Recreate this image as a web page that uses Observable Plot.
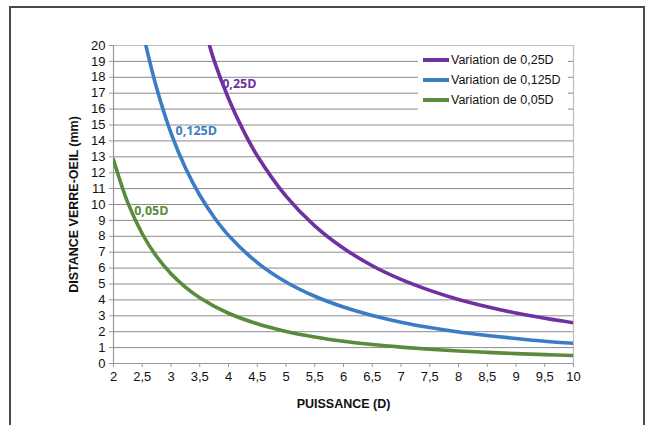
<!DOCTYPE html>
<html>
<head>
<meta charset="utf-8">
<script src="https://cdn.jsdelivr.net/npm/d3@7"></script>
<script src="https://cdn.jsdelivr.net/npm/@observablehq/plot@0.6"></script>
<style>
  html, body { margin: 0; padding: 0; background: #fff; }
  #wrap { position: relative; width: 657px; height: 425px; overflow: hidden; font-family: "Liberation Sans", Arial, sans-serif; }
  #frame { position: absolute; left: 9px; top: 6px; width: 636px; height: 440px; border: 2px solid #4a4a4a; box-sizing: border-box; pointer-events: none; }
  #legend { position: absolute; left: 418px; top: 48px; width: 150px; height: 64px; background: #fff; font-size: 12.5px; color: #111; }
  #legend .row { position: absolute; left: 5px; display: flex; align-items: center; }
  #legend .sw { width: 26px; height: 3.5px; margin-right: 2px; }
</style>
</head>
<body>
<div id="wrap"><div id="chart"></div><div id="legend"></div><div id="frame"></div></div>
<script>
const seriesNames = ["Variation de 0,25D", "Variation de 0,125D", "Variation de 0,05D"];
const seriesLabels = ["0,25D", "0,125D", "0,05D"];
const colors = ["#7030A0", "#3A7DC4", "#5A8A3C"];

const p025 = [3.67, 3.75, 4, 4.25, 4.5, 5, 5.5, 6, 6.5, 7, 7.5, 8, 8.5, 9, 9.5, 10];
const d025 = [20.0, 19.05, 16.67, 14.71, 13.07, 10.53, 8.66, 7.25, 6.15, 5.29, 4.60, 4.03, 3.57, 3.17, 2.84, 2.56];

const p0125 = [2.56, 2.75, 3, 3.25, 3.5, 3.75, 4, 4.5, 5, 5.5, 6, 6.5, 7, 7.5, 8, 8.5, 9, 9.5, 10];
const d0125 = [20.05, 17.32, 14.49, 12.31, 10.58, 9.20, 8.06, 6.35, 5.13, 4.23, 3.55, 3.02, 2.60, 2.26, 1.98, 1.76, 1.57, 1.40, 1.27];

const p005 = [2, 2.25, 2.5, 2.75, 3, 3.25, 3.5, 4, 4.5, 5, 5.5, 6, 6.5, 7, 7.5, 8, 8.5, 9, 9.5, 10];
const d005 = [12.82, 10.10, 8.16, 6.73, 5.65, 4.81, 4.14, 3.16, 2.50, 2.02, 1.67, 1.40, 1.19, 1.03, 0.90, 0.79, 0.70, 0.62, 0.56, 0.50];

const labelX = [3.89, 3.08, 2.36];
const labelY = [17.6, 14.6, 9.6];

const xTicks = [2, 2.5, 3, 3.5, 4, 4.5, 5, 5.5, 6, 6.5, 7, 7.5, 8, 8.5, 9, 9.5, 10];
const yTicks = d3.range(0, 21, 1);

const xs = [p025, p0125, p005];
const ys = [d025, d0125, d005];
const data = [];
xs.forEach((arr, i) => arr.forEach((p, j) => data.push({s: seriesNames[i], p, d: ys[i][j]})));
const labels = seriesLabels.map((t, i) => ({t, x: labelX[i], y: labelY[i], c: colors[i]}));

const fmt = d => String(d).replace(".", ",");

const chart = Plot.plot({
  width: 657,
  height: 425,
  marginLeft: 113,
  marginRight: 84,
  marginTop: 45,
  marginBottom: 62,
  style: {fontFamily: '"Liberation Sans", Arial, sans-serif', fontSize: "13px", color: "#111", background: "transparent"},
  x: {domain: [2, 10], ticks: xTicks, tickFormat: fmt},
  y: {domain: [0, 20], ticks: yTicks},
  color: {domain: seriesNames, range: colors},
  marks: [
    Plot.gridY(yTicks.filter(v => v > 0 && v < 20), {stroke: "#8a8a8a", strokeOpacity: 1, strokeWidth: 1}),
    Plot.ruleY([20], {stroke: "#bdbdbd", strokeWidth: 1.2}),
    Plot.ruleX([10], {stroke: "#bdbdbd", strokeWidth: 1.2}),
    Plot.ruleX([2], {stroke: "#9a9a9a", strokeWidth: 1.2}),
    Plot.ruleY([0], {stroke: "#9a9a9a", strokeWidth: 1.2}),
    Plot.axisY({ticks: yTicks, tickSize: 4, tickPadding: 4, stroke: "#9a9a9a", fontSize: 13,
      label: "DISTANCE VERRE-OEIL (mm)", labelAnchor: "center", labelArrow: "none", labelOffset: 44}),
    Plot.axisX({ticks: xTicks, tickFormat: fmt, tickSize: 4, tickPadding: 4, stroke: "#9a9a9a", fontSize: 13,
      label: "PUISSANCE (D)", labelAnchor: "center", labelArrow: "none", labelOffset: 44}),
    Plot.line(data, {x: "p", y: "d", z: "s", stroke: "s", strokeWidth: 3.6, curve: "catmull-rom", clip: true}),
    Plot.text(labels, {x: "x", y: "y", text: "t", fill: "c", textAnchor: "start", fontWeight: "bold",
      fontSize: 12.5, fontFamily: '"Open Sans", sans-serif'})
  ]
});
document.getElementById("chart").appendChild(chart);

chart.querySelectorAll("g[aria-label='y-axis label'] text, g[aria-label='x-axis label'] text").forEach(t => {
  t.setAttribute("font-weight", "bold");
  t.setAttribute("font-size", "12.5");
});

const legend = document.getElementById("legend");
seriesNames.forEach((n, i) => {
  const row = document.createElement("div");
  row.className = "row";
  row.style.top = (5 + i * 20) + "px";
  row.innerHTML = `<span class="sw" style="background:${colors[i]}"></span><span>${n}</span>`;
  legend.appendChild(row);
});
</script>
</body>
</html>
